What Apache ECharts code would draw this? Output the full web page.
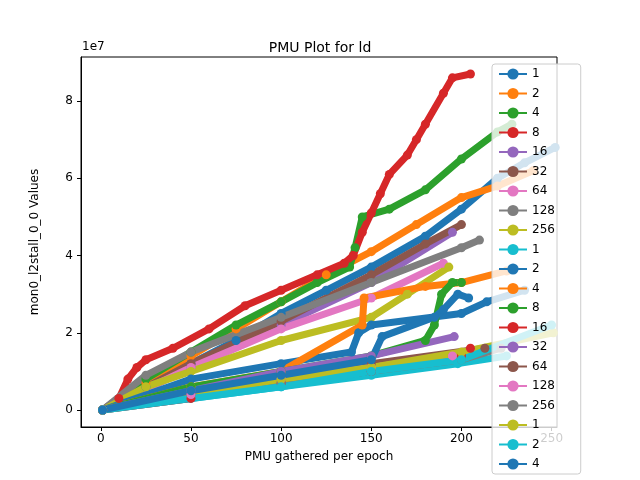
<!DOCTYPE html>
<html><head><meta charset="utf-8">
<script src="https://cdn.jsdelivr.net/npm/echarts@6/dist/echarts.min.js"></script>
<style>body{margin:0}#c{width:640px;height:480px}</style></head>
<body><div id="c"></div>
<script>
// values in units of 1e6
const labels = ["1","2","4","8","16","32","64","128","256","1","2","4","8","16","32","64","128","256","1","2","4"];
const s0 = [[1,0],[25,6],[50,12],[75,18],[100,25],[125,31],[150,37],[180,45],[200,52],[220,60],[235,64],[252,68]];
const s1 = [[1,0],[25,7],[50,14],[75,21],[100,28],[125,35],[150,41],[175,48],[200,55],[220,58],[240,62]];
const s2 = [[1,0],[25,8],[50,15],[75,22],[100,28],[120,33],[138,37],[141,42],[145,50],[160,52],[180,57],[200,65],[220,72],[228,74]];
const s3 = [[1,0],[10,3],[15,8],[20,11],[25,13],[40,16],[60,21],[80,27],[100,31],[120,35],[135,38],[140,40],[145,46],[150,51],[155,56],[160,61],[170,66],[175,70],[180,74],[190,82],[195,86],[205,87]];
const s4 = [[1,0],[50,11],[100,22],[150,33],[195,46]];
const s5 = [[1,0],[50,12],[100,23],[150,35],[180,43],[200,48]];
const s6 = [[1,0],[50,11],[100,21],[150,29],[190,38]];
const s7 = [[1,0],[25,9],[50,15],[100,24],[150,33],[200,42],[210,44]];
const s8 = [[1,0],[25,6],[50,10],[100,18],[150,24],[170,30],[193,37]];
const s9 = [[1,0],[50,3],[100,6],[150,9],[198,12],[225,14]];
const s10 = [[1,0],[50,8],[100,12],[139,15],[143,20],[150,22],[200,25],[214,28],[235,31]];
const s11 = [[1,0],[50,6],[100,10],[145,22],[146,29],[180,32],[200,33],[225,36]];
const s12 = [[1,0],[50,6],[100,10],[150,14],[180,18],[185,22],[189,30],[195,33],[200,33]];
const s13 = [[1,0],[50,3],[100,7],[150,10],[200,14],[205,16]];
const s14 = [[1,0],[50,5],[100,10],[150,14],[196,19]];
const s15 = [[1,0],[50,4],[100,8],[150,12],[213,16]];
const s16 = [[1,0],[50,4],[100,8],[150,11],[195,14]];
const s17 = [[1,0],[100,7],[150,10],[200,13],[222,16]];
const s18 = [[1,0],[100,8],[150,11],[200,15],[251,20]];
const s19 = [[1,0],[100,6],[150,10],[200,13],[250,22]];
const s20 = [[1,0],[50,5],[100,9],[150,13],[156,19],[185,24],[190,26],[198,30],[204,29]];
const all = [s0,s1,s2,s3,s4,s5,s6,s7,s8,s9,s10,s11,s12,s13,s14,s15,s16,s17,s18,s19,s20];
const colors = ['#1f77b4','#ff7f0e','#2ca02c','#d62728','#9467bd','#8c564b','#e377c2','#7f7f7f','#bcbd22','#17becf'];
const names = labels.map((l,i)=>l+' '.repeat(Math.floor(i/9)));
const xTicks=[0,50,100,150,200,250], yTicks=[0,20,40,60,80];
const F='DejaVu Sans';
const chart = echarts.init(document.getElementById('c'));
chart.setOption({
  animation:false,
  title:{text:'PMU Plot for ld',left:'center',top:36,textStyle:{fontFamily:F,fontSize:14,fontWeight:'normal',color:'#000'}},
  graphic:[{type:'text',left:82,top:41,style:{text:'1e7',font:'12px DejaVu Sans',fill:'#000'}}],
  grid:{left:81,right:83,top:57,bottom:53,show:true,borderColor:'#000',borderWidth:1},
  xAxis:{type:'value',min:-11,max:253,
    name:'PMU gathered per epoch',nameLocation:'middle',nameGap:24,nameTextStyle:{fontFamily:F,fontSize:12,color:'#000'},
    axisLine:{onZero:false,lineStyle:{color:'#000'}},splitLine:{show:false},
    axisTick:{customValues:xTicks,length:4,lineStyle:{color:'#000'}},
    axisLabel:{customValues:xTicks,fontFamily:F,fontSize:12,color:'#000',margin:6}},
  yAxis:{type:'value',min:-4.4,max:91.4,
    name:'mon0_l2stall_0_0 Values',nameLocation:'middle',nameGap:40,nameTextStyle:{fontFamily:F,fontSize:12,color:'#000'},
    axisLine:{show:true,onZero:false,lineStyle:{color:'#000'}},splitLine:{show:false},
    axisTick:{show:true,customValues:yTicks,length:4,lineStyle:{color:'#000'}},
    axisLabel:{customValues:yTicks,formatter:v=>String(v/10),fontFamily:F,fontSize:12,color:'#000',margin:8}},
  legend:{orient:'vertical',left:492,top:64,height:1000,itemGap:7.5,itemWidth:28,itemHeight:14,
    backgroundColor:'rgba(255,255,255,0.8)',borderColor:'#ccc',borderWidth:1,borderRadius:3,padding:[4,22,4,6],
    textStyle:{fontFamily:F,fontSize:12,color:'#000'},data:names},
  series:all.map((d,i)=>({type:'line',name:names[i],data:d,color:colors[i%10],
    symbol:'circle',symbolSize:9,lineStyle:{width:7},itemStyle:{color:colors[i%10]}}))
});
</script></body></html>
